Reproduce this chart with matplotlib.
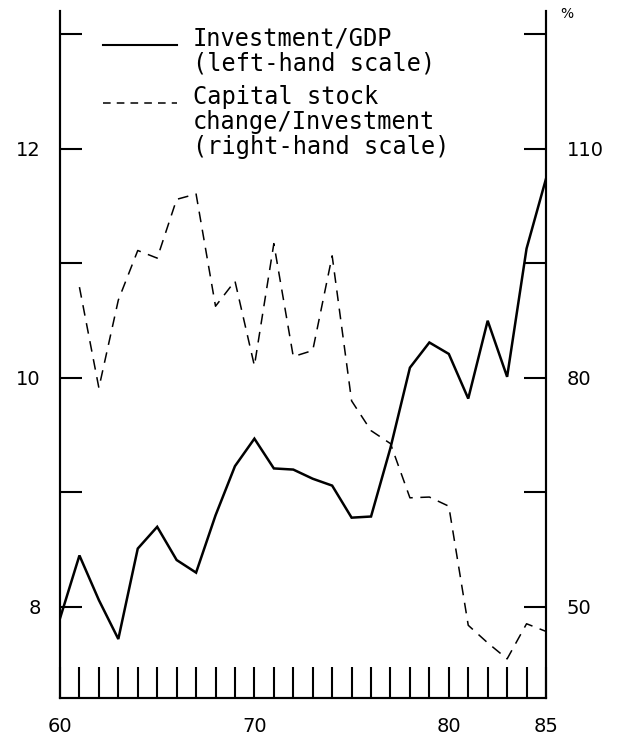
import matplotlib
matplotlib.use("Agg")
import matplotlib.pyplot as plt
from matplotlib.lines import Line2D

years = list(range(60, 86))
inv_gdp = [7.90, 8.45, 8.06, 7.72, 8.51, 8.70, 8.41, 8.30, 8.80, 9.23, 9.47,
           9.21, 9.20, 9.12, 9.06, 8.78, 8.79, 9.39, 10.09, 10.31, 10.21,
           9.82, 10.50, 10.01, 11.13, 11.74]
cap_years = list(range(61, 86))
cap_change = [91.9, 78.7, 90.2, 96.7, 95.7, 103.4, 104.1, 89.4, 92.7, 81.6,
              97.6, 82.8, 83.6, 96.0, 77.0, 73.1, 71.4, 64.3, 64.4, 63.2,
              47.6, 45.3, 43.2, 47.8, 46.8]

left_ticks = [8, 9, 10, 11, 12, 13]
left_labels = ["8", "", "10", "", "12", ""]
right_ticks = [50, 65, 80, 95, 110, 125]
right_labels = ["50", "", "80", "", "110", ""]
x_ticks = list(range(60, 86))
x_labels = {60: "60", 70: "70", 80: "80", 85: "85"}

W, H = 617, 739
fig = plt.figure(figsize=(W / 100, H / 100), dpi=100)
L, R, B, T = 60, 546, 698, 11
ax = fig.add_axes([L / W, 1 - B / H, (R - L) / W, (B - T) / H])
ax2 = ax.twinx()

ax.plot(years, inv_gdp, color="black", lw=1.8, solid_joinstyle="miter")
ax2.plot(cap_years, cap_change, color="black", lw=1.1, dashes=(7, 5))

ylo, yhi = 7.205, 13.205
ax.set_ylim(ylo, yhi)
ax2.set_ylim(50 + (ylo - 8) * 15, 50 + (yhi - 8) * 15)
ax.set_xlim(60, 85)

for a in (ax, ax2):
    a.spines["top"].set_visible(False)
    for s in ("left", "right", "bottom"):
        a.spines[s].set_linewidth(1.5)

ax.set_yticks(left_ticks)
ax.set_yticklabels(left_labels)
ax2.set_yticks(right_ticks)
ax2.set_yticklabels(right_labels)
ax.set_xticks(x_ticks)
ax.set_xticklabels([x_labels.get(x, "") for x in x_ticks])

ax.tick_params(axis="y", direction="in", length=16, width=1.5, pad=14,
               labelsize=14)
ax2.tick_params(axis="y", direction="in", length=16, width=1.5, pad=15,
                labelsize=14)
ax.tick_params(axis="x", direction="in", length=22, width=1.5, pad=14,
               labelsize=14)

# legend
fig.add_artist(Line2D([103 / W, 177 / W], [1 - 45 / H, 1 - 45 / H],
                      color="black", lw=1.5))
fig.add_artist(Line2D([103 / W, 177 / W], [1 - 103 / H, 1 - 103 / H],
                      color="black", lw=1.1, dashes=(5, 4)))
leg_lines = [("Investment/GDP", 38), ("(left-hand scale)", 63),
             ("Capital stock", 97), ("change/Investment", 122),
             ("(right-hand scale)", 147)]
for txt, yy in leg_lines:
    fig.text(193 / W, 1 - yy / H, txt, ha="left", va="center",
             family="DejaVu Sans Mono", fontsize=17)

fig.text(567 / W, 1 - 14 / H, "%", ha="center", va="center", fontsize=10)

fig.savefig("out.png", dpi=100)
